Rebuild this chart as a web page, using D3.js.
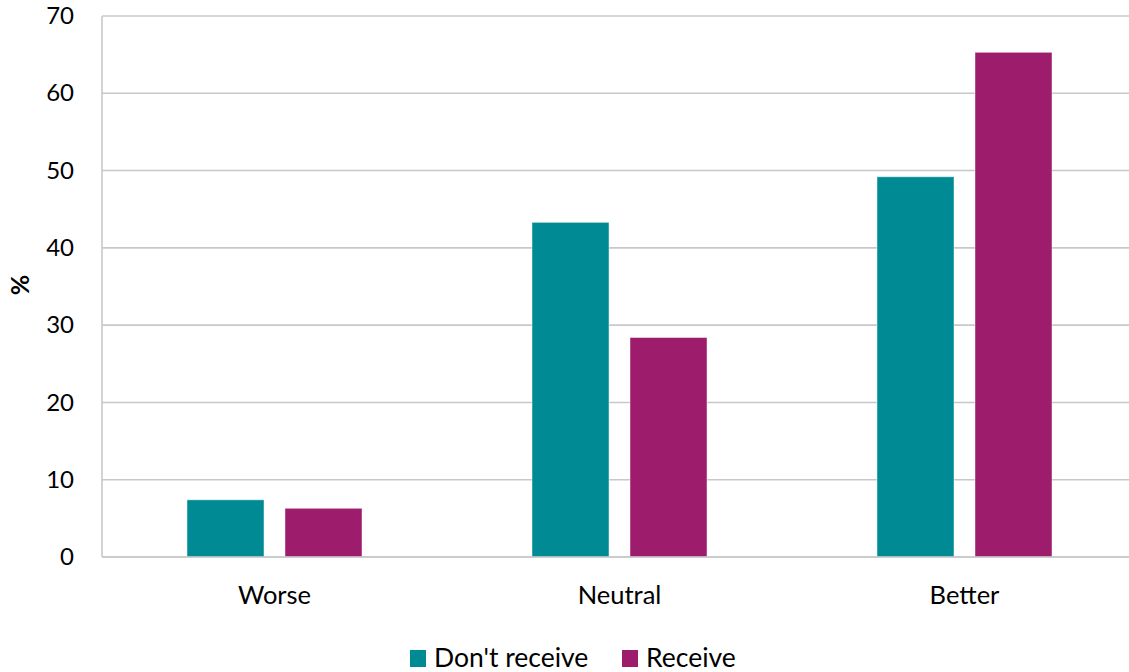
<!DOCTYPE html>
<html>
<head>
<meta charset="utf-8">
<script src="https://cdn.jsdelivr.net/npm/d3@7"></script>
<style>
  html, body { margin: 0; padding: 0; background: #fff; }
  svg { display: block; font-family: Lato, "Open Sans", sans-serif; }
</style>
</head>
<body>
<svg id="chart" width="1129" height="672"></svg>
<script>
// Survey outcome categories and the share of respondents (%) in each group
const categories = ["Worse", "Neutral", "Better"];
const seriesNames = ["Don't receive", "Receive"];
const dontReceive = [7.4, 43.3, 49.2];
const receive = [6.3, 28.4, 65.3];
const yTicks = [0, 10, 20, 30, 40, 50, 60, 70];
const colors = ["#008B94", "#9E1C6C"];

const seriesValues = [dontReceive, receive];
const rows = categories.map((c, i) => ({
  category: c,
  values: seriesNames.map((s, j) => ({ series: s, value: seriesValues[j][i] }))
}));

const svg = d3.select("#chart");
const plot = { left: 102, right: 1137, top: 16, bottom: 557 };

const x0 = d3.scaleBand().domain(categories).range([plot.left, plot.right]).padding(0);
const x1 = d3.scaleBand().domain(seriesNames)
  .range([85, x0.bandwidth() - 85]).paddingInner(0.2143).paddingOuter(0);
const y = d3.scaleLinear().domain([0, 70]).range([plot.bottom, plot.top]);
const color = d3.scaleOrdinal().domain(seriesNames).range(colors);

// Horizontal gridlines
svg.append("g")
  .selectAll("line")
  .data(yTicks)
  .join("line")
  .attr("x1", plot.left)
  .attr("x2", plot.right)
  .attr("y1", d => y(d))
  .attr("y2", d => y(d))
  .attr("stroke", "#C8C8C8")
  .attr("stroke-width", 1.6);

// Y axis labels
const yAxis = svg.append("g")
  .attr("transform", `translate(${plot.left},0)`)
  .call(d3.axisLeft(y).tickValues(yTicks).tickSize(0).tickPadding(28));
yAxis.select(".domain").remove();
yAxis.selectAll("text")
  .attr("font-size", 24)
  .attr("fill", "#000")
  .style("font-family", "Lato, 'Open Sans', sans-serif");

// Vertical axis line
svg.append("line")
  .attr("x1", plot.left).attr("x2", plot.left)
  .attr("y1", plot.top).attr("y2", plot.bottom)
  .attr("stroke", "#C8C8C8").attr("stroke-width", 1.6);

// Bars
svg.append("g")
  .selectAll("g")
  .data(rows)
  .join("g")
  .attr("transform", d => `translate(${x0(d.category)},0)`)
  .selectAll("rect")
  .data(d => d.values)
  .join("rect")
  .attr("x", d => x1(d.series))
  .attr("width", x1.bandwidth())
  .attr("y", d => y(d.value))
  .attr("height", d => y(0) - y(d.value))
  .attr("fill", d => color(d.series))
  .attr("stroke", "#ffffff")
  .attr("stroke-opacity", 0.45)
  .attr("stroke-width", 1);

// Baseline
svg.append("line")
  .attr("x1", plot.left).attr("x2", plot.right)
  .attr("y1", y(0)).attr("y2", y(0))
  .attr("stroke", "#C8C8C8").attr("stroke-width", 1.6);

// Category labels
const xAxis = svg.append("g")
  .attr("transform", `translate(0,${plot.bottom})`)
  .call(d3.axisBottom(x0).tickSize(0).tickPadding(29));
xAxis.select(".domain").remove();
xAxis.selectAll("text")
  .attr("font-size", 25.5)
  .attr("fill", "#000")
  .style("font-family", "Lato, 'Open Sans', sans-serif");

// Y axis title
svg.append("text")
  .attr("transform", "translate(29,285) rotate(-90)")
  .attr("text-anchor", "middle")
  .attr("font-size", 25)
  .attr("font-weight", "bold")
  .attr("fill", "#000")
  .text("%");

// Legend
const legend = svg.append("g");
const legendItems = [
  { name: seriesNames[0], x: 410 },
  { name: seriesNames[1], x: 622 }
];
const li = legend.selectAll("g").data(legendItems).join("g")
  .attr("transform", d => `translate(${d.x},650)`);
li.append("rect")
  .attr("width", 16).attr("height", 17)
  .attr("fill", d => color(d.name));
li.append("text")
  .attr("x", 24).attr("y", 17)
  .attr("font-size", 26.5)
  .attr("fill", "#000")
  .text(d => d.name);
</script>
</body>
</html>
